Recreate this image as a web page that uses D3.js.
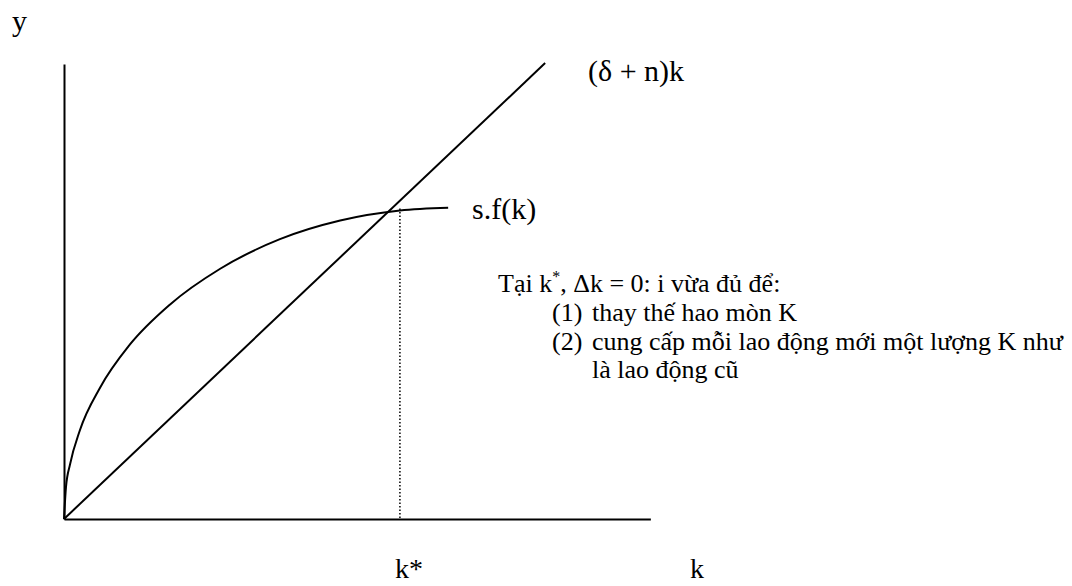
<!DOCTYPE html>
<html>
<head>
<meta charset="utf-8">
<script src="https://cdn.jsdelivr.net/npm/d3@7"></script>
<style>
  html, body { margin: 0; padding: 0; background: #fff; }
  svg { display: block; }
  text { font-family: "Liberation Serif", "Times New Roman", serif; fill: #000; }
</style>
</head>
<body>
<svg id="chart" width="1072" height="586"></svg>
<script>
// Solow model: saving curve s.f(k) against break-even investment (δ + n)k

// capital per worker (k) and saving per worker s.f(k)
const sfK = [0, 0.036, 0.11, 0.29, 0.66, 1.20, 1.93, 2.85, 3.94, 5.04, 6.13, 7.01];
const sfY = [0, 0.70, 1.20, 1.95, 2.89, 3.83, 4.71, 5.50, 6.15, 6.56, 6.78, 6.84];

// break-even investment line (δ + n)k
const lineK = [0, 8.78];
const lineY = [0, 10.02];

// steady state capital
const kStar = 6.13;
const kStarY = 6.78;

const axisLabels = ["y", "k", "k*"];
const lineLabels = ["(δ + n)k", "s.f(k)"];
const noteHead = ["Tại k", "*", ", Δk = 0: i vừa đủ để:"];
const noteItems = [
  ["(1)", "thay thế hao mòn K"],
  ["(2)", "cung cấp mỗi lao động mới một lượng K như"],
  ["", "là lao động cũ"]
];

const svg = d3.select("#chart");

const x = d3.scaleLinear().domain([0, 10]).range([64, 612]);
const y = d3.scaleLinear().domain([0, 10]).range([519, 64]);

// axes: plain lines with no ticks
const xAxisScale = x.copy().domain([0, 10.7]);
xAxisScale.range([x(0), x(10.7)]);
svg.append("g")
  .attr("transform", `translate(0,${y(0)})`)
  .call(d3.axisBottom(xAxisScale).tickValues([]).tickSizeOuter(0))
  .select(".domain").attr("stroke", "#000").attr("stroke-width", 2);

svg.append("g")
  .attr("transform", `translate(${x(0)},0)`)
  .call(d3.axisLeft(y).tickValues([]).tickSizeOuter(0))
  .select(".domain").attr("stroke", "#000").attr("stroke-width", 2);

// break-even line
const lineData = lineK.map((k, i) => [k, lineY[i]]);
svg.append("path")
  .datum(lineData)
  .attr("fill", "none")
  .attr("stroke", "#000")
  .attr("stroke-width", 2)
  .attr("d", d3.line().x(d => x(d[0])).y(d => y(d[1])));

// saving curve
const sfData = sfK.map((k, i) => [k, sfY[i]]);
svg.append("path")
  .datum(sfData)
  .attr("fill", "none")
  .attr("stroke", "#000")
  .attr("stroke-width", 2)
  .attr("d", d3.line().curve(d3.curveMonotoneX).x(d => x(d[0])).y(d => y(d[1])));

// steady state marker
svg.append("line")
  .attr("x1", x(kStar)).attr("x2", x(kStar))
  .attr("y1", y(kStarY) - 2).attr("y2", y(0))
  .attr("stroke", "#000")
  .attr("stroke-width", 1.5)
  .attr("stroke-dasharray", "1.5,2");

// axis labels
svg.append("text").attr("x", 12).attr("y", 31).attr("font-size", 30).text(axisLabels[0]);
svg.append("text").attr("x", 690).attr("y", 578).attr("font-size", 28).text(axisLabels[1]);
svg.append("text").attr("x", 395).attr("y", 578).attr("font-size", 28).text(axisLabels[2]);

// curve labels
svg.append("text").attr("x", 588).attr("y", 81).attr("font-size", 30).text(lineLabels[0]);
svg.append("text").attr("x", 472).attr("y", 219).attr("font-size", 30).text(lineLabels[1]);

// explanatory note
const head = svg.append("text").attr("x", 498).attr("y", 292).attr("font-size", 26);
head.append("tspan").text(noteHead[0]);
head.append("tspan").attr("dy", -10).attr("font-size", 16).text(noteHead[1]);
head.append("tspan").attr("dy", 10).text(noteHead[2]);

noteItems.forEach((item, i) => {
  const yy = 321 + i * 28.5;
  if (item[0]) svg.append("text").attr("x", 552).attr("y", yy).attr("font-size", 26).text(item[0]);
  svg.append("text").attr("x", 592).attr("y", yy).attr("font-size", 26).text(item[1]);
});
</script>
</body>
</html>
